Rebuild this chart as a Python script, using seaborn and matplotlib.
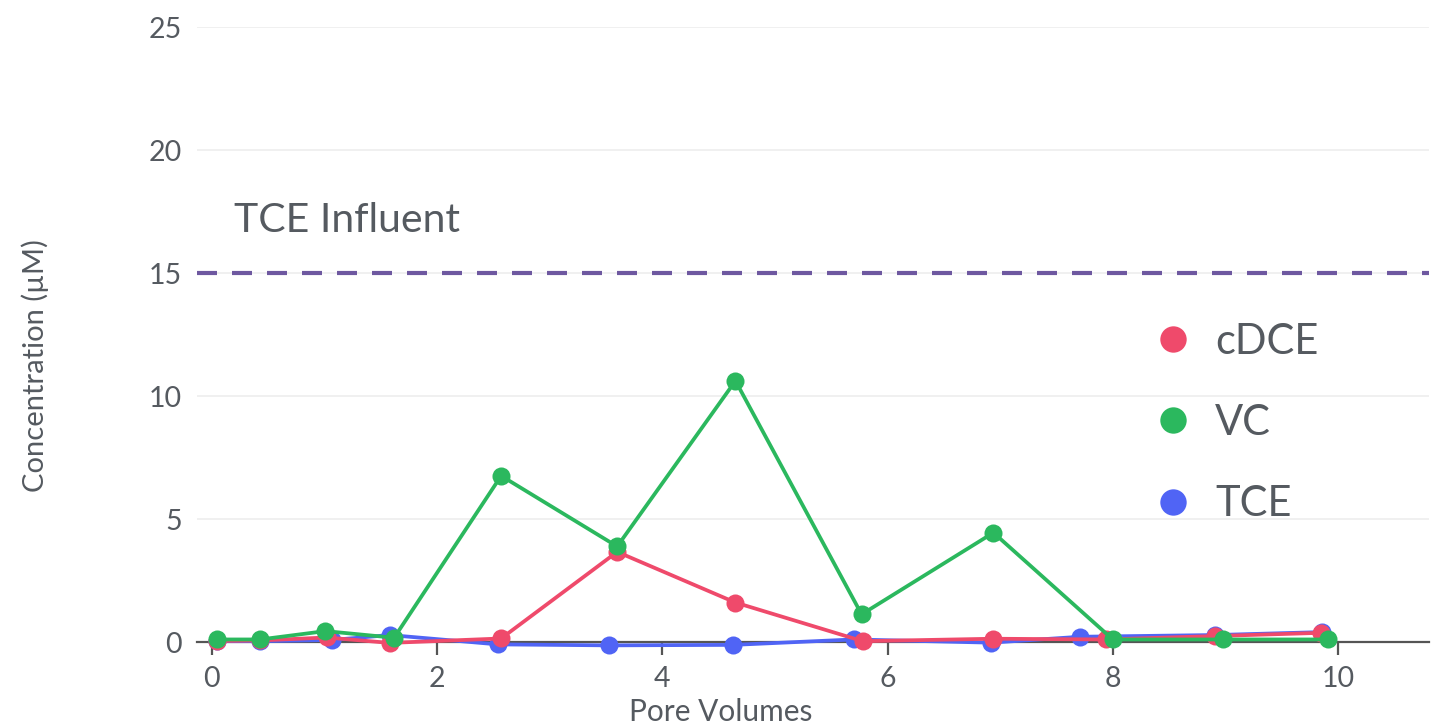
import numpy as np
import pandas as pd
import matplotlib
matplotlib.use("Agg")
import matplotlib.pyplot as plt
from matplotlib.lines import Line2D
import seaborn as sns

# data
tce_x = [0.05, 0.43, 1.07, 1.58, 2.54, 3.53, 4.63, 5.70, 6.92, 7.71, 8.91, 9.86]
tce_y = [0.05, 0.05, 0.10, 0.30, -0.08, -0.12, -0.10, 0.12, -0.01, 0.23, 0.30, 0.42]

cdce_x = [0.05, 0.43, 1.02, 1.58, 2.57, 3.60, 4.65, 5.78, 6.94, 7.94, 8.91, 9.85]
cdce_y = [0.06, 0.08, 0.20, -0.02, 0.16, 3.68, 1.62, 0.05, 0.15, 0.12, 0.26, 0.39]

vc_x = [0.05, 0.43, 1.01, 1.62, 2.57, 3.60, 4.65, 5.77, 6.94, 8.00, 8.98, 9.91]
vc_y = [0.12, 0.12, 0.46, 0.19, 6.77, 3.90, 10.63, 1.14, 4.46, 0.12, 0.12, 0.12]

influent = 15
y_ticks = [0, 5, 10, 15, 20, 25]
x_ticks = [0, 2, 4, 6, 8, 10]

colors = {"cDCE": "#ef4a6b", "VC": "#2bb85e", "TCE": "#5064f5"}
text_col = "#555a60"

sns.set_theme(style="white")
plt.rcParams["font.family"] = ["Lato", "DejaVu Sans"]

fig = plt.figure(figsize=(14.38, 7.27), dpi=100)
ax = fig.add_axes([0.137, 0.1045, 0.857, 0.858])

# draw order: TCE at bottom, VC on top
for name, xs, ys in [("TCE", tce_x, tce_y), ("cDCE", cdce_x, cdce_y), ("VC", vc_x, vc_y)]:
    df = pd.DataFrame({"x": xs, "y": ys})
    sns.lineplot(data=df, x="x", y="y", ax=ax, sort=False, color=colors[name],
                 linewidth=2.7, marker="o", markersize=13, markeredgewidth=0,
                 clip_on=False, zorder=3)

ax.axhline(influent, color="#6e58a0", linewidth=3, dashes=(4.8, 3.6), zorder=2)
ax.text(0.2, 16.4, "TCE Influent", fontsize=29.5, color=text_col, ha="left", va="bottom")

ax.set_xlim(-0.13, 10.81)
ax.set_ylim(-0.35, 25)
ax.set_xticks(x_ticks)
ax.set_yticks(y_ticks)
ax.grid(axis="y", color="#eeeeee", linewidth=1.2)
ax.set_axisbelow(True)
for s in ["top", "right", "left"]:
    ax.spines[s].set_visible(False)
ax.spines["bottom"].set_position(("data", 0))
ax.spines["bottom"].set_color("#555555")
ax.spines["bottom"].set_linewidth(1.6)
ax.tick_params(axis="x", length=9, width=1.6, color="#555555", labelsize=20.5,
               labelcolor=text_col, pad=8, bottom=True)
ax.tick_params(axis="y", length=0, labelsize=20.5, labelcolor=text_col, pad=11)
ax.set_xlabel("")
ax.set_ylabel("")

fig.text(721 / 1438, 1 - 712 / 727, "Pore Volumes", fontsize=21.5, color=text_col,
         ha="center", va="center")
fig.text(35 / 1438, 1 - 366 / 727, "Concentration (µM)", fontsize=21, color=text_col,
         ha="center", va="center", rotation=90)

handles = [Line2D([], [], linestyle="", marker="o", markersize=19, markeredgewidth=0,
                  color=colors[n]) for n in ["cDCE", "VC", "TCE"]]
leg = ax.legend(handles, ["cDCE", "VC", "TCE"], loc="upper left", frameon=False,
                bbox_to_anchor=(1115 / 1438, 1 - 285 / 727), bbox_transform=fig.transFigure,
                fontsize=30, labelspacing=1.04, handletextpad=0.5, handlelength=1.0)
for t in leg.get_texts():
    t.set_color(text_col)

fig.savefig("out.png", dpi=100)
